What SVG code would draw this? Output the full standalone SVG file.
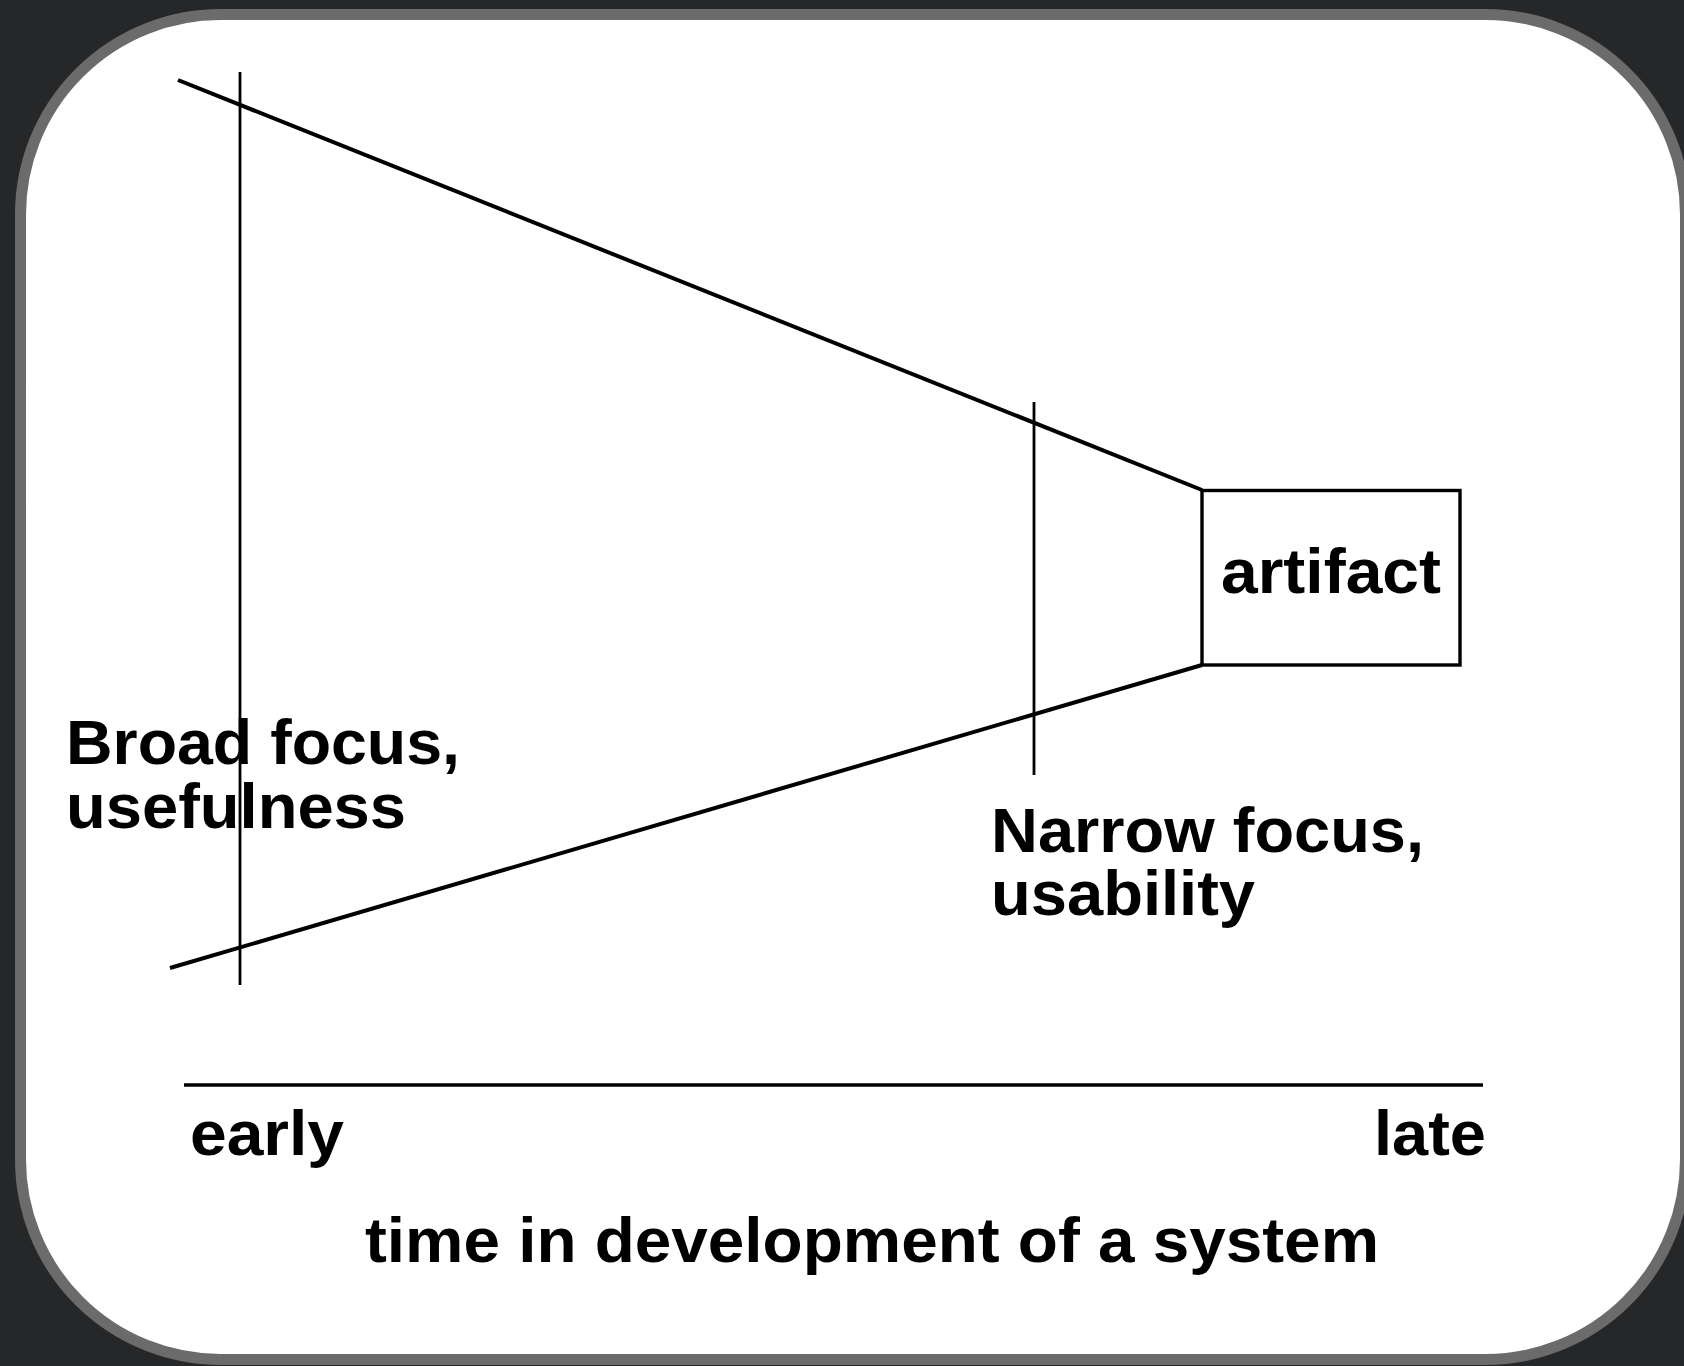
<svg xmlns="http://www.w3.org/2000/svg" width="1684" height="1366" viewBox="0 0 1684 1366">
  <style>
    .ln { stroke: #000; fill: none; stroke-linecap: butt; }
    .lbl { font-family: "Liberation Sans", Arial, Helvetica, sans-serif; font-weight: bold; font-size: 63px; fill: #000; }
  </style>
  <rect x="0" y="0" width="1684" height="1366" fill="#262729"/>
  <rect id="frame" x="20.5" y="14.5" width="1665" height="1345" rx="200" ry="200" fill="#ffffff" stroke="#6b6b6b" stroke-width="11"/>

  <g id="connectors">
    <line class="ln" x1="178" y1="80" x2="1202" y2="490" stroke-width="4"/>
    <line class="ln" x1="170" y1="968" x2="1202" y2="665" stroke-width="4"/>
    <line class="ln" x1="240" y1="72" x2="240" y2="985" stroke-width="2.8"/>
    <line class="ln" x1="1034" y1="402" x2="1034" y2="775" stroke-width="2.8"/>
    <line class="ln" x1="184" y1="1085" x2="1483" y2="1085" stroke-width="3.4"/>
  </g>

  <g id="artifact">
    <rect x="1202" y="490.5" width="258" height="174.5" fill="none" stroke="#000" stroke-width="3.4"/>
    <text class="lbl" x="1331" y="593" text-anchor="middle" textLength="220" lengthAdjust="spacingAndGlyphs">artifact</text>
  </g>

  <g id="broad-label">
    <text class="lbl" x="66" y="764" textLength="394" lengthAdjust="spacingAndGlyphs">Broad focus,</text>
    <text class="lbl" x="66" y="828" textLength="340" lengthAdjust="spacingAndGlyphs">usefulness</text>
  </g>

  <g id="narrow-label">
    <text class="lbl" x="991" y="852" textLength="433" lengthAdjust="spacingAndGlyphs">Narrow focus,</text>
    <text class="lbl" x="991" y="915" textLength="264" lengthAdjust="spacingAndGlyphs">usability</text>
  </g>

  <g id="axis-labels">
    <text class="lbl" x="190" y="1155" textLength="154" lengthAdjust="spacingAndGlyphs">early</text>
    <text class="lbl" x="1374" y="1155" textLength="112" lengthAdjust="spacingAndGlyphs">late</text>
    <text class="lbl" x="365" y="1262" textLength="1014" lengthAdjust="spacingAndGlyphs">time in development of a system</text>
  </g>
</svg>
